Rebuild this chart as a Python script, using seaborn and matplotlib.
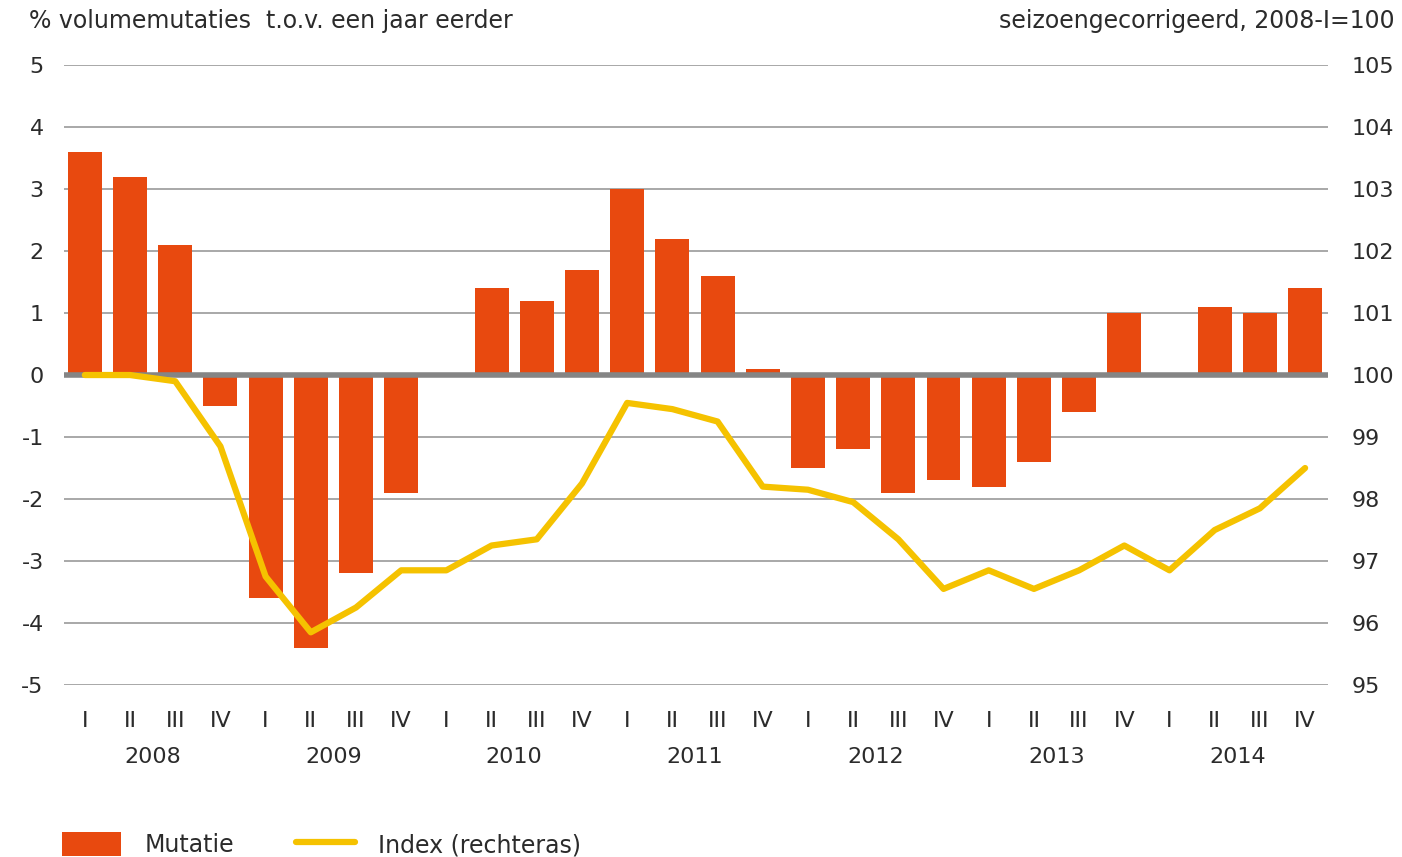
import numpy as np
import pandas as pd
import matplotlib
matplotlib.use("Agg")
import matplotlib.pyplot as plt
import matplotlib.transforms as mtransforms
from matplotlib.patches import Patch
from matplotlib.lines import Line2D
import seaborn as sns

# data
years = ["2008", "2009", "2010", "2011", "2012", "2013", "2014"]
quarters = ["I", "II", "III", "IV"]
mutatie = [3.6, 3.2, 2.1, -0.5,
           -3.6, -4.4, -3.2, -1.9,
           0.0, 1.4, 1.2, 1.7,
           3.0, 2.2, 1.6, 0.1,
           -1.5, -1.2, -1.9, -1.7,
           -1.8, -1.4, -0.6, 1.0,
           0.0, 1.1, 1.0, 1.4]
index = [100.0, 100.0, 99.9, 98.85,
         96.75, 95.85, 96.25, 96.85,
         96.85, 97.25, 97.35, 98.25,
         99.55, 99.45, 99.25, 98.2,
         98.15, 97.95, 97.35, 96.55,
         96.85, 96.55, 96.85, 97.25,
         96.85, 97.5, 97.85, 98.5]

labels = [f"{y}-{q}" for y in years for q in quarters]
df = pd.DataFrame({"kwartaal": labels, "mutatie": mutatie,
                   "index": index, "pos": np.arange(len(labels))})

bar_col = "#E8490F"
line_col = "#F5C200"
grid_col = "#9a9a9a"
txt_col = "#2b2b2b"

sns.set_style("white")
plt.rcParams["font.family"] = ["DejaVu Sans"]
plt.rcParams["axes.unicode_minus"] = False

fig = plt.figure(figsize=(14.02, 8.57), dpi=100)
ax = fig.add_axes([0.046, 0.2007, 0.901, 0.7234])

sns.barplot(data=df, x="kwartaal", y="mutatie", color=bar_col, width=0.75,
            saturation=1, linewidth=0, ax=ax, zorder=2)
ax.set_xlim(-0.45, 27.5)
ax.set_ylim(-5, 5)
ax.set_yticks(range(-5, 6))
for v in range(-5, 6):
    if v != 0:
        ax.axhline(v, color=grid_col, lw=1.2, zorder=1)
ax.axhline(0, color="#858585", lw=4, zorder=3)

ax.set_xticks(range(len(labels)))
ax.set_xticklabels(quarters * len(years))
ax.tick_params(axis="both", length=0, labelsize=16, labelcolor=txt_col)
ax.tick_params(axis="y", pad=15)
ax.tick_params(axis="x", pad=19)
ax.set_xlabel("")
ax.set_ylabel("")

trans = mtransforms.blended_transform_factory(ax.transData, ax.transAxes)
for i, y in enumerate(years):
    ax.text(4 * i + 1.5, -0.116, y, transform=trans, ha="center", va="center",
            fontsize=16, color=txt_col)

ax2 = ax.twinx()
sns.lineplot(data=df, x="pos", y="index", color=line_col, lw=4.5, ax=ax2)
ax2.set_ylim(95, 105)
ax2.set_yticks(range(95, 106))
ax2.tick_params(axis="y", length=0, labelsize=16, labelcolor=txt_col, pad=17)
ax2.set_ylabel("")
ax2.set_xlabel("")
ax2.set_xlim(-0.45, 27.5)

for a in (ax, ax2):
    for s in a.spines.values():
        s.set_visible(False)

fig.text(0.021, 0.975, "% volumemutaties  t.o.v. een jaar eerder", ha="left",
         va="center", fontsize=17, color=txt_col)
fig.text(0.995, 0.975, "seizoengecorrigeerd, 2008-I=100", ha="right",
         va="center", fontsize=17, color=txt_col)

handles = [Patch(facecolor=bar_col, edgecolor="none"),
           Line2D([0], [0], color=line_col, lw=4.5)]
fig.legend(handles, ["Mutatie", "Index (rechteras)"], loc="lower left",
           bbox_to_anchor=(0.029, -0.025), ncol=2, frameon=False, fontsize=17,
           handlelength=2.5, handleheight=1.2, columnspacing=2.6,
           handletextpad=1.0, labelcolor=txt_col)

fig.savefig("out.png", dpi=100)
